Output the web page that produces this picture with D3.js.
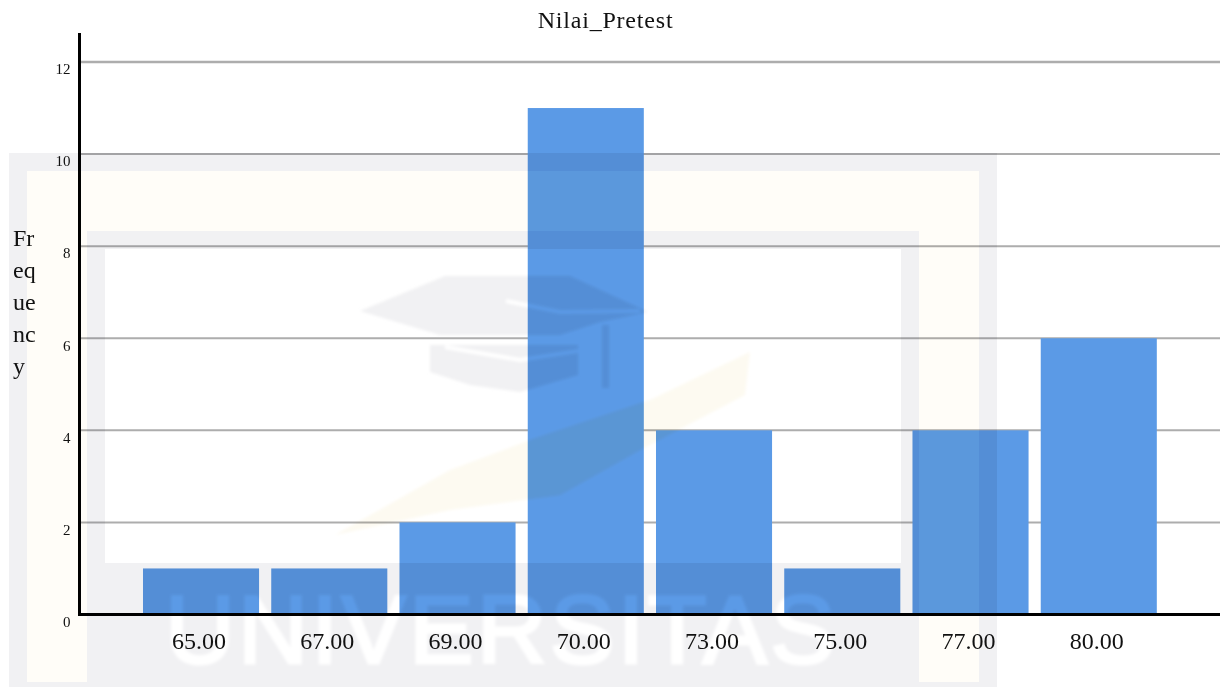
<!DOCTYPE html>
<html>
<head>
<meta charset="utf-8">
<title>Nilai_Pretest</title>
<script src="https://cdn.jsdelivr.net/npm/d3@7"></script>
<style>
  html, body { margin: 0; padding: 0; background: #fff; }
  svg { display: block; }
  text { font-family: "Liberation Serif", serif; fill: #111; }
  .watermark { mix-blend-mode: multiply; pointer-events: none; }
  .watermark text { font-family: "Liberation Sans", sans-serif; fill: #fff; stroke: #fff; stroke-width: 3px; }
</style>
</head>
<body>
<svg id="chart" width="1232" height="687"></svg>
<script>
const categories = ["65.00", "67.00", "69.00", "70.00", "73.00", "75.00", "77.00", "80.00"];
const frequencies = [1, 1, 2, 11, 4, 1, 4, 6];
const yTicks = [0, 2, 4, 6, 8, 10, 12];
const yLabelLines = ["Fr", "eq", "ue", "nc", "y"];
const chartTitle = "Nilai_Pretest";
const watermarkWord = "UNIVERSITAS";

const svg = d3.select("#chart");
const defs = svg.append("defs");

defs.append("filter").attr("id", "soft").append("feGaussianBlur").attr("stdDeviation", 1.5);

const x = d3.scaleBand()
  .domain(categories)
  .range([136.9, 1162.9])
  .paddingInner(0.095)
  .paddingOuter(0.0475);

const y = d3.scaleLinear()
  .domain([0, 12])
  .range([614.5, 62]);

// grid
svg.append("g")
  .selectAll("line")
  .data(yTicks.filter(d => d > 0))
  .enter()
  .append("line")
  .attr("x1", 80)
  .attr("x2", 1220)
  .attr("y1", d => y(d))
  .attr("y2", d => y(d))
  .attr("stroke", "#adadad")
  .attr("stroke-width", d => d === 12 ? 2.4 : 2);

// bars
svg.append("g")
  .selectAll("rect")
  .data(frequencies)
  .enter()
  .append("rect")
  .attr("x", (d, i) => x(categories[i]))
  .attr("y", d => y(d))
  .attr("width", x.bandwidth())
  .attr("height", d => y(0) - y(d))
  .attr("fill", "#5b9ae6");

defs.append("clipPath")
  .attr("id", "bars-clip")
  .selectAll("rect")
  .data(frequencies)
  .enter()
  .append("rect")
  .attr("x", (d, i) => x(categories[i]))
  .attr("y", d => y(d))
  .attr("width", x.bandwidth())
  .attr("height", d => y(0) - y(d) - 2);

// axes
const yAxis = svg.append("g")
  .attr("transform", "translate(78.5,0)")
  .call(d3.axisLeft(y).tickValues(yTicks).tickSize(0).tickPadding(8));
yAxis.select(".domain").remove();
yAxis.selectAll("text")
  .attr("dy", "0.72em")
  .attr("y", 1)
  .style("font-family", "'Liberation Serif', serif")
  .style("font-size", "15px")
  .style("fill", "#111");

const xAxis = svg.append("g")
  .attr("transform", `translate(-2,${y(0)})`)
  .call(d3.axisBottom(x).tickSize(0).tickPadding(17));
xAxis.select(".domain").remove();
xAxis.selectAll("text")
  .style("font-family", "'Liberation Serif', serif")
  .style("font-size", "24px")
  .style("fill", "#111");

svg.append("line")
  .attr("x1", 79.5).attr("x2", 79.5)
  .attr("y1", 33).attr("y2", y(0) + 1)
  .attr("stroke", "#000").attr("stroke-width", 3);
svg.append("line")
  .attr("x1", 78).attr("x2", 1220)
  .attr("y1", y(0)).attr("y2", y(0))
  .attr("stroke", "#000").attr("stroke-width", 3);

svg.append("text")
  .attr("x", 605.5)
  .attr("y", 28)
  .attr("text-anchor", "middle")
  .style("font-size", "24px")
  .style("letter-spacing", "0.8px")
  .text(chartTitle);

svg.append("g")
  .selectAll("text")
  .data(yLabelLines)
  .enter()
  .append("text")
  .attr("x", 13)
  .attr("y", (d, i) => 246 + i * 32)
  .style("font-size", "24px")
  .text(d => d);

// scanned page watermark lies over the whole chart
const gray = "#f1f1f3", cream = "#fffdf8", swoosh = "#fdfaf1";
const wm = svg.append("g").attr("id", "wm").attr("class", "watermark");
wm.append("rect").attr("x", 9).attr("y", 153).attr("width", 988).attr("height", 534).attr("fill", gray);
wm.append("rect").attr("x", 27).attr("y", 171).attr("width", 952).attr("height", 511).attr("fill", cream);
wm.append("rect").attr("x", 87).attr("y", 231).attr("width", 832).attr("height", 451).attr("fill", gray);
wm.append("rect").attr("x", 105).attr("y", 249).attr("width", 796).attr("height", 314).attr("fill", "#fff");
const logo = wm.append("g").attr("filter", "url(#soft)");
logo.append("path")
  .attr("d", "M360,311 L445,276 L570,276 L648,312 L600,322 L560,335 L440,335 Z")
  .attr("fill", gray);
logo.append("path")
  .attr("d", "M430,345 L578,345 L578,375 L520,392 L470,385 L430,372 Z")
  .attr("fill", gray);
logo.append("rect").attr("x", 602).attr("y", 325).attr("width", 7).attr("height", 63).attr("fill", gray);
logo.append("path")
  .attr("d", "M506,301 L560,312 L640,311")
  .attr("fill", "none").attr("stroke", "#fff").attr("stroke-width", 4);
logo.append("path")
  .attr("d", "M445,347 L520,360 L578,351")
  .attr("fill", "none").attr("stroke", "#fff").attr("stroke-width", 4);
logo.append("path")
  .attr("d", "M335,535 L450,470 L530,440 L650,400 L750,352 L745,395 L640,450 L560,495 L450,510 Z")
  .attr("fill", swoosh);
wm.append("text")
  .attr("x", 165)
  .attr("y", 663)
  .attr("textLength", 670)
  .attr("lengthAdjust", "spacing")
  .attr("filter", "url(#soft)")
  .style("font-size", "97px")
  .text(watermarkWord);

// the scan darkens the blue more than the white, second pass only on the bars
svg.append("g")
  .attr("class", "watermark")
  .attr("clip-path", "url(#bars-clip)")
  .attr("opacity", 0.45)
  .append("use")
  .attr("href", "#wm");
</script>
</body>
</html>
